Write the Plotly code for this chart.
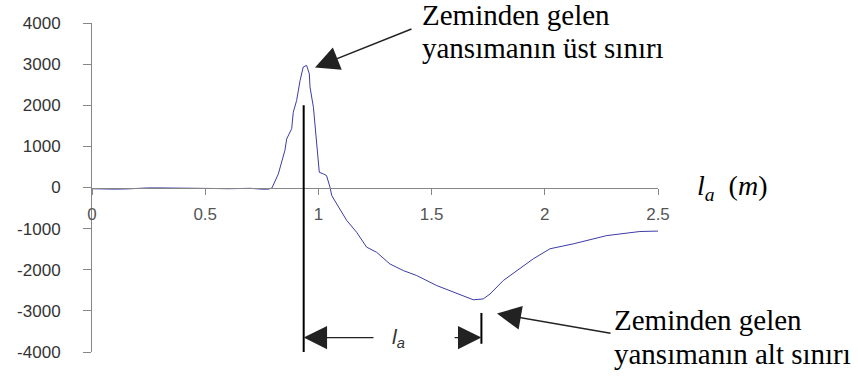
import plotly.graph_objects as go

# Measured reflection signal against distance l_a (m)
distance_m = [0.00, 0.05, 0.10, 0.15, 0.20, 0.25, 0.30, 0.35, 0.40, 0.45, 0.50, 0.55,
              0.60, 0.65, 0.70, 0.75, 0.78, 0.795, 0.815, 0.823, 0.852, 0.860, 0.882,
              0.889, 0.904, 0.919, 0.933, 0.948, 0.960, 0.963, 0.978, 0.985, 0.993,
              1.004, 1.022, 1.036, 1.051, 1.059, 1.081, 1.125, 1.169, 1.213, 1.257,
              1.316, 1.375, 1.434, 1.523, 1.581, 1.655, 1.684, 1.728, 1.758, 1.817,
              1.876, 1.949, 2.023, 2.126, 2.273, 2.420, 2.500]
signal = [-30, -40, -40, -35, -15, -10, -10, -10, -10, -10, -10, -25,
          -30, -30, -20, -40, -40, -10, 250, 330, 900, 1180, 1430,
          1830, 2120, 2600, 2930, 2970, 2760, 2440, 1950, 1470, 980,
          370, 330, 290, 10, -195, -400, -800, -1090, -1450, -1575,
          -1860, -2020, -2140, -2385, -2505, -2670, -2730, -2710, -2590, -2260,
          -2020, -1735, -1490, -1370, -1170, -1070, -1060]

x_ticks = [0, 0.5, 1, 1.5, 2, 2.5]
y_ticks = [4000, 3000, 2000, 1000, 0, -1000, -2000, -3000, -4000]

# Limits of the ground reflection (start and end of the l_a span)
la_start = 0.935
la_end = 1.72

top_label = ["Zeminden gelen", "yansımanın üst sınırı"]
bottom_label = ["Zeminden gelen", "yansımanın alt sınırı"]

serif = "Liberation Serif, Times New Roman, serif"
sans = "Liberation Sans, Arial, sans-serif"

fig = go.Figure()
fig.add_trace(go.Scatter(x=distance_m, y=signal, mode="lines",
                         line=dict(color="#3c3ca8", width=1), showlegend=False))

fig.update_layout(
    width=858, height=378,
    margin=dict(l=92, r=200, t=23, b=26),
    paper_bgcolor="white", plot_bgcolor="white",
    xaxis=dict(range=[0, 2.5], tickvals=x_ticks, ticktext=[f"{v:g}" for v in x_ticks],
               showgrid=False, zeroline=False, showline=True, linecolor="#868686",
               linewidth=1, ticks="outside", ticklen=6, tickcolor="#868686",
               anchor="free", position=0.5, ticklabelstandoff=5,
               tickfont=dict(family=sans, size=17, color="#555555")),
    yaxis=dict(range=[-4000, 4000], tickvals=y_ticks, ticktext=[str(v) for v in y_ticks],
               showgrid=False, zeroline=False, showline=True, linecolor="#868686",
               linewidth=1, ticks="outside", ticklen=8, tickcolor="#868686",
               ticklabelstandoff=19,
               tickfont=dict(family=sans, size=17, color="#333333")),
)

def py(pixel_y):
    # vertical paper position of a pixel row inside the 329 px tall plot area
    return (352 - pixel_y) / 329.0

def px(pixel_x):
    return (pixel_x - 92) / 566.0

# Callout texts
for text, yy in zip(top_label, [15, 48]):
    fig.add_annotation(x=px(420), y=py(yy), xref="paper", yref="paper", text=text,
                       showarrow=False, xanchor="left", yanchor="middle",
                       font=dict(family=serif, size=29, color="black"))
for text, yy in zip(bottom_label, [320, 354]):
    fig.add_annotation(x=px(612), y=py(yy), xref="paper", yref="paper", text=text,
                       showarrow=False, xanchor="left", yanchor="middle",
                       font=dict(family=serif, size=29, color="black"))

# Axis title
fig.add_annotation(x=px(695), y=py(187), xref="paper", yref="paper",
                   text="<i>l</i><sub><i>a</i></sub>  (<i>m</i>)", showarrow=False,
                   xanchor="left", yanchor="middle",
                   font=dict(family=serif, size=28, color="black"))

# Callout arrows
fig.add_annotation(x=0.985, y=2920, xref="x", yref="y", ax=98, ay=-39, text="",
                   showarrow=True, arrowhead=2, arrowsize=3.2, arrowwidth=1.5,
                   arrowcolor="#222222")
fig.add_annotation(x=1.789, y=-3066, xref="x", yref="y", ax=115, ay=20, text="",
                   showarrow=True, arrowhead=2, arrowsize=3.2, arrowwidth=1.5,
                   arrowcolor="#222222")

# l_a dimension line
dim_y = -3650
fig.add_shape(type="line", x0=la_start, x1=la_start, y0=2000, y1=-4000,
              xref="x", yref="y", line=dict(color="black", width=2))
fig.add_shape(type="line", x0=la_end, x1=la_end, y0=-3050, y1=-3800,
              xref="x", yref="y", line=dict(color="black", width=2))
fig.add_annotation(x=la_start, y=dim_y, ax=1.25, ay=dim_y, xref="x", yref="y",
                   axref="x", ayref="y", text="", showarrow=True, arrowhead=2,
                   arrowsize=3.6, arrowwidth=1.3, arrowcolor="#222222")
fig.add_annotation(x=la_end, y=dim_y, ax=1.595, ay=dim_y, xref="x", yref="y",
                   axref="x", ayref="y", text="", showarrow=True, arrowhead=2,
                   arrowsize=3.6, arrowwidth=1.3, arrowcolor="#222222")
fig.add_annotation(x=1.352, y=dim_y, xref="x", yref="y",
                   text="<i>l<sub>a</sub></i>", showarrow=False,
                   font=dict(family=sans, size=21, color="#333333"))

fig.write_html("out.html")
